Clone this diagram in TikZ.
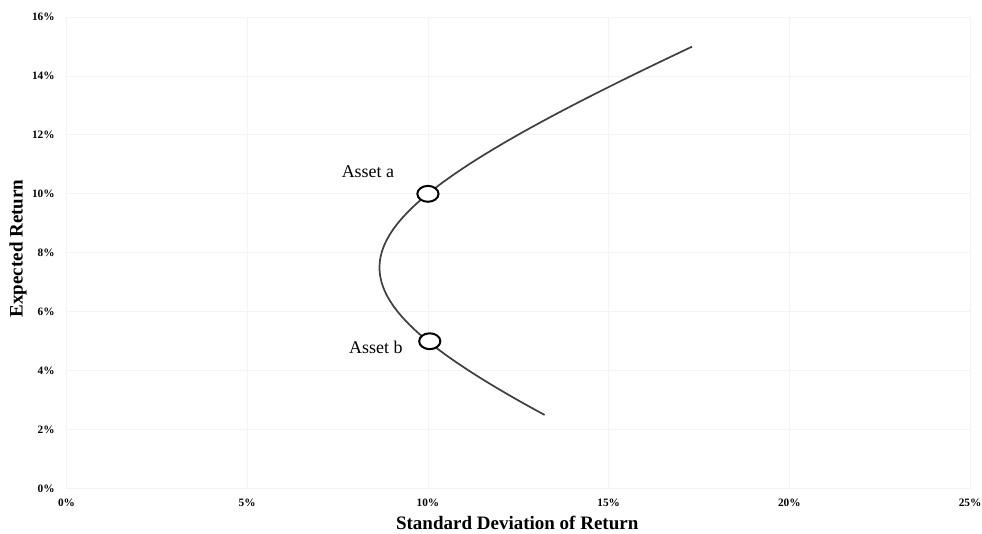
\documentclass[tikz,border=0pt]{standalone}
\usepackage{fontspec}
\setmainfont{Liberation Serif}
\usetikzlibrary{shapes.geometric,positioning}
\definecolor{gridgray}{HTML}{F4F4F4}
\definecolor{curvegray}{HTML}{404040}
\tikzset{
 ticklab/.style={font=\fontsize{8.5}{10}\selectfont\bfseries,inner sep=0pt},
 axistitle/.style={font=\fontsize{14.3}{16}\selectfont\bfseries,inner sep=0pt},
 assetlab/.style={font=\fontsize{13.5}{16}\selectfont,inner sep=0pt},
 assetmark/.style={ellipse,draw=black,line width=1.5pt,fill=white,minimum width=0.56cm,minimum height=0.42cm,inner sep=0pt}
}
\begin{document}
\begin{tikzpicture}[x=0.956cm,y=0.7797cm]
 \useasboundingbox (-1.84,-1.51) rectangle (25.33,16.576);
 \draw[gridgray,line width=0.6pt](0,0) grid[xstep=5,ystep=2] (25,16);
 \foreach \sx in {0,5,...,25} \node[ticklab] (xt\sx) at (\sx,-0.49) {\sx\%};
 \foreach \sy in {0,2,...,16} \node[ticklab,anchor=east] (yt\sy) at (-0.32,\sy) {\sy\%};
 \node[axistitle] (xtitle) at (12.47,-1.16) {Standard Deviation of Return};
 \node[axistitle,rotate=90] (ytitle) at (-1.34,8.15) {Expected Return};
 \draw[curvegray,line width=1.3pt,smooth] plot[domain=-0.5:2,samples=120,variable=\w]
  ({10*sqrt(\w*\w-\w+1)},{5+5*\w});
 \node[assetmark] (a) at (10,10) {};
 \node[assetmark] (b) at (10.05,5) {};
 \node[assetlab] (la) at (8.34,10.74) {Asset a};
 \node[assetlab] (lb) at (8.56,4.80) {Asset b};
\end{tikzpicture}
\end{document}
